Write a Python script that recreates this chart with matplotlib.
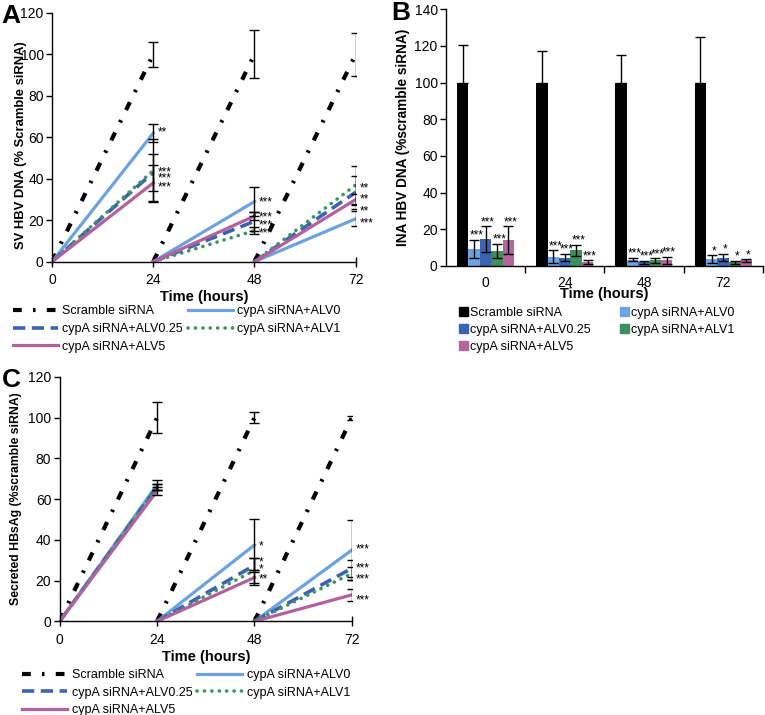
import numpy as np
import matplotlib
matplotlib.use("Agg")
import matplotlib.pyplot as plt
from matplotlib.patches import Patch
from matplotlib.lines import Line2D

plt.rcParams['font.family'] = ['Liberation Sans', 'DejaVu Sans']

times = [0, 24, 48, 72]
names = ["Scramble siRNA", "cypA siRNA+ALV0", "cypA siRNA+ALV0.25",
         "cypA siRNA+ALV1", "cypA siRNA+ALV5"]
colors = ['black', '#6CA2E0', '#3C62B0', '#3E9460', '#B2609E']
bar_colors = ['black', '#6EA3E2', '#3B63B3', '#3F8E5E', '#B4649F']

# panel A: SV HBV DNA, values at 24/48/72 h (each segment starts from 0)
a_vals = [[100, 100, 100],
          [62, 29, 20.7],
          [43, 19.5, 33.5],
          [44, 15, 37],
          [38, 22, 30]]
a_err = [[6, 11.5, 10.5],
         [4.3, 7, 3.7],
         [9, 4.5, 8],
         [15, 1.5, 9],
         [8.8, 2, 2.5]]
a_stars = [["**", "***", "***", "***"], ["***", "***", "***", "***"], ["**", "**", "**", "***"]]
a_star_y = [[63.3, 44.3, 41.4, 37.1], [29.9, 22.6, 18.9, 15], [36.6, 31.3, 25.5, 19.8]]

# panel B: INA HBV DNA bars
b_vals = [[100, 100, 100, 100],
          [9.3, 5, 3.5, 3.8],
          [14.7, 4.5, 2, 4.5],
          [8.2, 8.5, 3, 2],
          [14.2, 2, 3, 3]]
b_err = [[20.5, 17, 15, 24.8],
         [5, 3.5, 0.8, 2],
         [7, 2, 0.7, 2],
         [4, 3, 1.2, 0.8],
         [7.5, 1, 2, 0.7]]
b_stars = [None,
           ["***", "***", "***", "*"],
           ["***", "***", "***", "*"],
           ["***", "***", "***", "*"],
           ["***", "***", "***", "*"]]

# panel C: secreted HBsAg
c_vals = [[100, 100, 100],
          [67, 37.5, 35],
          [66, 27.5, 26],
          [66, 25, 23.5],
          [64, 21.5, 13]]
c_err = [[7.5, 2.5, 1],
         [2.5, 12.5, 14.8],
         [1.5, 3.5, 4],
         [1.5, 6, 3],
         [2, 3.5, 3]]
c_stars = [[], ["*", "*", "*", "**"], ["***", "***", "***", "***"]]
c_star_y = [[], [38, 30.2, 26.5, 22], [36.6, 27, 21.9, 11.6]]

styles = [dict(lw=3.0, dashes=(2.1, 2.7, 0.6, 2.7), dash_capstyle='butt'),
          dict(lw=2.3, linestyle='-'),
          dict(lw=2.6, dashes=(3.4, 1.8)),
          dict(lw=2.6, dashes=(0.05, 2.0), dash_capstyle='round'),
          dict(lw=2.3, linestyle='-')]

fig = plt.figure(figsize=(7.65, 7.15), dpi=100)


def style_axes(ax):
    for s in ['top', 'right']:
        ax.spines[s].set_visible(False)
    for s in ['left', 'bottom']:
        ax.spines[s].set_linewidth(1.0)
    ax.tick_params(labelsize=10, length=4, width=1, pad=2)


def line_panel(rect, vals, err, stars, star_y, ylabel, yfs, letter, leg_y):
    ax = fig.add_axes(rect)
    handles = []
    for k in range(len(names)):
        for i in range(3):
            ax.plot([times[i], times[i + 1]], [0, vals[k][i]],
                    color=colors[k], **styles[k])
        handles.append(Line2D([], [], color=colors[k], **styles[k]))
    for k in range(len(names)):
        ax.errorbar(times[1:], vals[k], yerr=err[k], fmt='none',
                    ecolor='black', elinewidth=1, capsize=3.5, capthick=1, zorder=5)
    for i in range(3):
        for lab, y in zip(stars[i], star_y[i]):
            ax.text(times[i + 1] + 1.0, y - 1.2, lab, fontsize=8.5, va='center', ha='left')
    ax.set_xlim(0, 72)
    ax.set_ylim(0, 120)
    ax.set_xticks(times)
    ax.set_yticks(range(0, 121, 20))
    style_axes(ax)
    ax.tick_params(axis='x', direction='inout', length=7, pad=5)
    ax.set_xlabel("Time (hours)", fontsize=10.5, fontweight='bold', labelpad=2)
    ax.set_ylabel(ylabel, fontsize=yfs, fontweight='bold')
    order = [0, 2, 4, 1, 3]
    ax.legend([handles[j] for j in order], [names[j] for j in order], ncol=2,
              loc='upper left', bbox_to_anchor=(-0.145, leg_y), frameon=False,
              fontsize=9, handlelength=3.6, handletextpad=0.35,
              columnspacing=0.4, labelspacing=0.45, borderaxespad=0)
    fig.text(0.002, rect[1] + rect[3] - 0.004, letter, fontsize=19, fontweight='bold',
             va='center', ha='left')
    return ax


axA = line_panel([0.068, 0.634, 0.397, 0.348], a_vals, a_err, a_stars, a_star_y,
                 "SV HBV DNA (% Scramble siRNA)", 9.4, "A", -0.155)
axA.yaxis.set_label_coords(-0.083, 0.47)

axC = line_panel([0.078, 0.131, 0.382, 0.342], c_vals, c_err, c_stars, c_star_y,
                 "Secreted HBsAg (%scramble siRNA)", 8.8, "C", -0.175)
axC.yaxis.set_label_coords(-0.13, 0.5)

# panel B bars
axB = fig.add_axes([0.583, 0.628, 0.414, 0.359])
x = np.arange(len(times))
w = 0.144
for k in range(len(names)):
    off = (k - 2) * w
    axB.bar(x + off, b_vals[k], width=w, color=bar_colors[k], zorder=2)
    if k == 0:
        axB.errorbar(x + off, b_vals[k], yerr=[[0] * 4, b_err[k]], fmt='none',
                     ecolor='black', elinewidth=1, capsize=3.5, capthick=1, zorder=3)
    else:
        axB.errorbar(x + off, b_vals[k], yerr=b_err[k], fmt='none',
                     ecolor='black', elinewidth=1, capsize=3.5, capthick=1, zorder=3)
        for i in range(4):
            axB.text(x[i] + off + 0.03, b_vals[k][i] + b_err[k][i] - 1.0, b_stars[k][i],
                     fontsize=8.5, ha='center', va='bottom')
axB.set_xlim(-0.5, 3.5)
axB.set_ylim(0, 140)
axB.set_yticks(range(0, 141, 20))
axB.set_xticks(x)
axB.set_xticklabels([str(t) for t in times])
axB.set_xticks([0.5, 1.5, 2.5, 3.5], minor=True)
style_axes(axB)
axB.tick_params(axis='x', which='major', length=0, pad=7)
axB.tick_params(axis='x', which='minor', length=5, width=1)
axB.set_xlabel("Time (hours)", fontsize=10.5, fontweight='bold', labelpad=-2)
axB.set_ylabel("INA HBV DNA (%scramble siRNA)", fontsize=9.8, fontweight='bold')
axB.yaxis.set_label_coords(-0.115, 0.5)
bh = [Patch(color=bar_colors[k]) for k in range(len(names))]
order = [0, 2, 4, 1, 3]
axB.legend([bh[j] for j in order], [names[j] for j in order], ncol=2,
           loc='upper left', bbox_to_anchor=(0.025, -0.14), frameon=False,
           fontsize=9, handlelength=0.7, handleheight=0.7, handletextpad=0.15,
           columnspacing=2.4, labelspacing=0.4, borderaxespad=0)
fig.text(0.512, 0.982, "B", fontsize=19, fontweight='bold', va='center', ha='left')

fig.savefig("out.png", dpi=100)
